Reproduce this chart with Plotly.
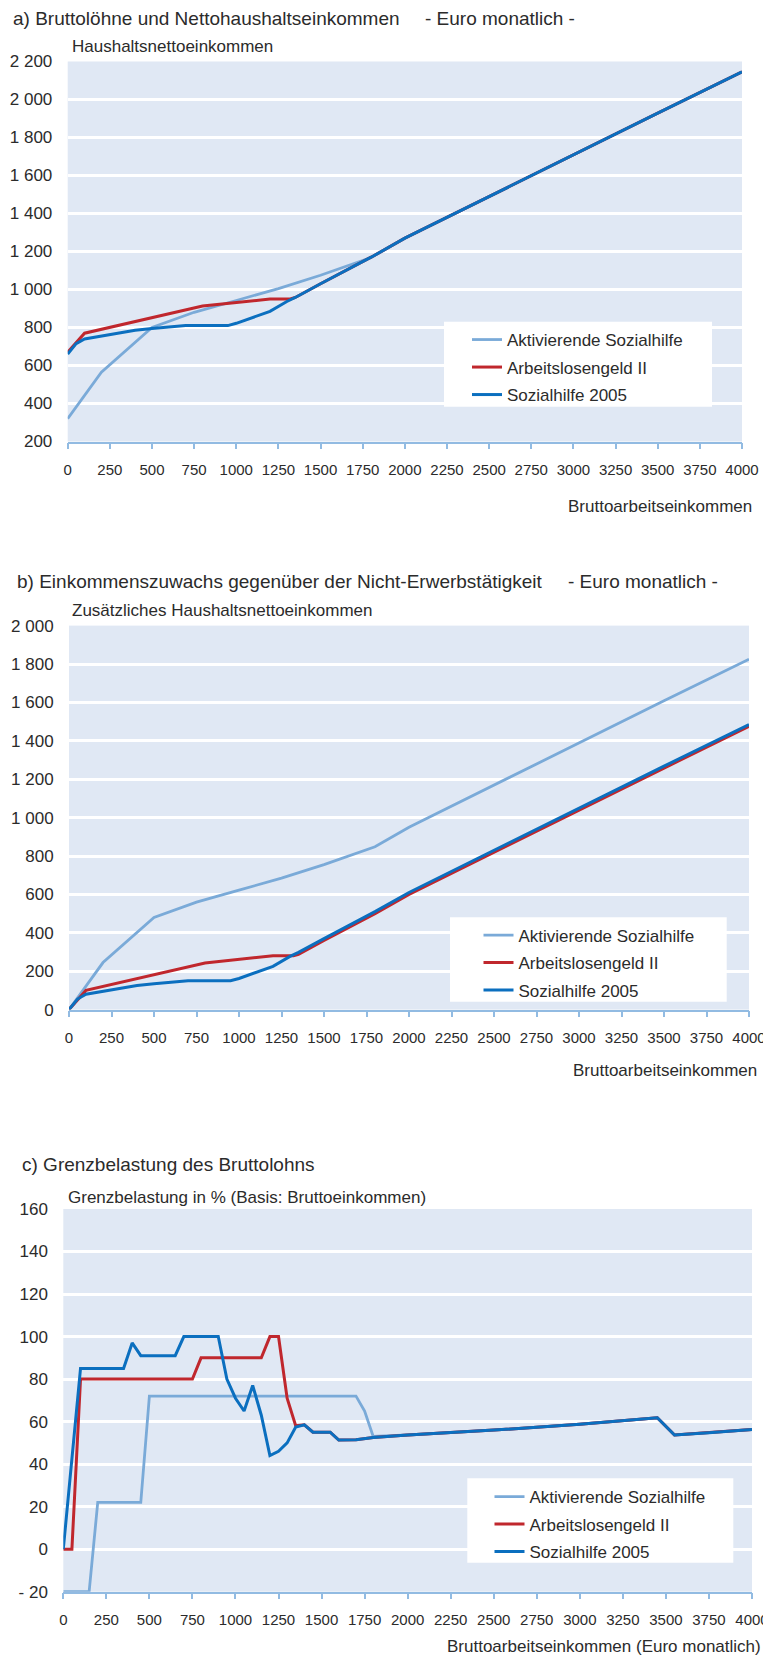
import plotly.graph_objects as go

PAGE_W, PAGE_H = 771, 1656
OFF = 8  # the page body margin that the browser puts around the figure
W, H = PAGE_W - OFF, PAGE_H - OFF

# ---------------- data ----------------
series_names = ["Aktivierende Sozialhilfe", "Arbeitslosengeld II", "Sozialhilfe 2005"]
series_colors = ["#7aaad8", "#c0272d", "#0b6fbf"]

x_ticks = [0, 250, 500, 750, 1000, 1250, 1500, 1750, 2000, 2250, 2500, 2750, 3000, 3250, 3500, 3750, 4000]
x_tick_labels = ["0", "250", "500", "750", "1000", "1250", "1500", "1750", "2000", "2250", "2500",
                 "2750", "3000", "3250", "3500", "3750", "4000"]

# panel a) Bruttolöhne und Nettohaushaltseinkommen
a_y_ticks = [200, 400, 600, 800, 1000, 1200, 1400, 1600, 1800, 2000, 2200]
a_y_tick_labels = ["200", "400", "600", "800", "1 000", "1 200", "1 400", "1 600", "1 800", "2 000", "2 200"]
a_x_aktiv = [0, 200, 500, 750, 1000, 1250, 1500, 1800, 2000, 2500, 3000, 3500, 4000]
a_y_aktiv = [320, 565, 800, 880, 942, 1005, 1075, 1168, 1270, 1490, 1710, 1928, 2145]
a_x_alg = [0, 100, 800, 1000, 1200, 1320, 1350, 1500, 1800, 2000, 2500, 3000, 3500, 4000]
a_y_alg = [670, 770, 913, 932, 950, 950, 958, 1030, 1170, 1270, 1490, 1710, 1928, 2145]
a_x_soz = [0, 50, 100, 200, 300, 400, 500, 600, 700, 800, 950, 1000, 1100, 1200, 1300, 1350,
           1500, 1800, 2000, 2500, 3000, 3500, 4000]
a_y_soz = [660, 715, 740, 755, 770, 785, 795, 803, 810, 810, 810, 822, 855, 885, 937, 958,
           1030, 1170, 1270, 1490, 1710, 1928, 2145]

# panel b) Einkommenszuwachs gegenüber der Nicht-Erwerbstätigkeit
b_y_ticks = [0, 200, 400, 600, 800, 1000, 1200, 1400, 1600, 1800, 2000]
b_y_tick_labels = ["0", "200", "400", "600", "800", "1 000", "1 200", "1 400", "1 600", "1 800", "2 000"]
b_x_aktiv = [0, 200, 500, 750, 1000, 1250, 1500, 1800, 2000, 2500, 3000, 3500, 4000]
b_y_aktiv = [0, 245, 480, 560, 622, 685, 755, 848, 950, 1170, 1390, 1608, 1825]
b_x_alg = [0, 100, 800, 1000, 1200, 1320, 1350, 1500, 1800, 2000, 2500, 3000, 3500, 4000]
b_y_alg = [0, 100, 243, 262, 280, 280, 288, 360, 500, 600, 820, 1040, 1258, 1475]
b_x_soz = [0, 50, 100, 200, 300, 400, 500, 600, 700, 800, 950, 1000, 1100, 1200, 1300, 1350,
           1500, 1800, 2000, 2500, 3000, 3500, 4000]
b_y_soz = [0, 55, 80, 95, 110, 125, 135, 143, 150, 150, 150, 162, 195, 225, 277, 298,
           370, 510, 610, 830, 1050, 1268, 1485]

# panel c) Grenzbelastung des Bruttolohns
c_y_ticks = [-20, 0, 20, 40, 60, 80, 100, 120, 140, 160]
c_y_tick_labels = ["- 20", "0", "20", "40", "60", "80", "100", "120", "140", "160"]
c_x_aktiv = [0, 150, 200, 450, 500, 1700, 1750, 1800, 2000, 2500, 3000, 3450, 3550, 3750, 4000]
c_y_aktiv = [-20, -20, 22, 22, 72, 72, 65, 53, 53.7, 56, 58.8, 61.8, 53.7, 54.8, 56.3]
c_x_alg = [0, 50, 100, 750, 800, 1150, 1200, 1250, 1300, 1350, 1400, 1450, 1550, 1600, 1700,
           1800, 2000, 2500, 3000, 3450, 3550, 3750, 4000]
c_y_alg = [0, 0, 80, 80, 90, 90, 100, 100, 71, 58, 58.5, 55, 55, 51.3, 51.5,
           52.5, 53.7, 56, 58.8, 61.8, 53.7, 54.8, 56.3]
c_x_soz = [0, 100, 350, 400, 450, 650, 700, 900, 950, 1000, 1050, 1100, 1150, 1200, 1250, 1300,
           1350, 1400, 1450, 1550, 1600, 1700, 1800, 2000, 2500, 3000, 3450, 3550, 3750, 4000]
c_y_soz = [0, 85, 85, 97, 91, 91, 100, 100, 80, 71, 65, 77, 63, 44, 46, 50,
           57.5, 58.5, 55, 55, 51.3, 51.5, 52.5, 53.7, 56, 58.8, 61.8, 53.7, 54.8, 56.3]

# ---------------- styling ----------------
FONT = "Arial, 'Liberation Sans', sans-serif"
TXT = "#2b2b2b"
AXIS_COL = "#92bbe2"
BG = "#e0e8f4"


def px(x):
    """page pixel x -> paper fraction"""
    return (x - OFF) / W


def py(y):
    """page pixel y -> paper fraction"""
    return 1 - (y - OFF) / H


panels = [
    dict(key="", legend="legend", xdom=(67.7, 742), ydom=(441.5, 61.5), yr=(200, 2200),
         yt=a_y_ticks, ytl=a_y_tick_labels,
         data=[(a_x_aktiv, a_y_aktiv), (a_x_alg, a_y_alg), (a_x_soz, a_y_soz)],
         box=(444, 321.7, 712, 406.7), leg=(467, 322)),
    dict(key="2", legend="legend2", xdom=(69, 749), ydom=(1009.6, 625.6), yr=(0, 2000),
         yt=b_y_ticks, ytl=b_y_tick_labels,
         data=[(b_x_aktiv, b_y_aktiv), (b_x_alg, b_y_alg), (b_x_soz, b_y_soz)],
         box=(450, 917.3, 726.7, 1001.7), leg=(478.5, 917.5)),
    dict(key="3", legend="legend3", xdom=(63.3, 752), ydom=(1591.7, 1209), yr=(-20, 160),
         yt=c_y_ticks, ytl=c_y_tick_labels,
         data=[(c_x_aktiv, c_y_aktiv), (c_x_alg, c_y_alg), (c_x_soz, c_y_soz)],
         box=(467.3, 1478.3, 733.3, 1562.7), leg=(489.5, 1479)),
]

fig = go.Figure()
layout = dict(
    width=W, height=H, margin=dict(l=0, r=0, t=0, b=0, pad=0, autoexpand=False),
    paper_bgcolor="white", plot_bgcolor=BG,
    font=dict(family=FONT, color=TXT),
    showlegend=True,
)
shapes = []

for p_i, p in enumerate(panels):
    k = p["key"]
    for s_i, (xs, ys) in enumerate(p["data"]):
        fig.add_trace(go.Scatter(
            x=xs, y=ys, mode="lines", name=series_names[s_i],
            line=dict(color=series_colors[s_i], width=3 if s_i else 2.8),
            xaxis="x" + k, yaxis="y" + k, legend=p["legend"],
            legendgroup=f"p{p_i}s{s_i}", hoverinfo="skip",
        ))
    layout["xaxis" + k] = dict(
        domain=[px(p["xdom"][0]), px(p["xdom"][1])], anchor="y" + k, automargin=False,
        range=[0, 4000], tickvals=x_ticks, ticktext=x_tick_labels,
        showgrid=False, zeroline=False, showline=True, linecolor=AXIS_COL, linewidth=1.5,
        ticks="outside", ticklen=6, tickwidth=1.5, tickcolor=AXIS_COL,
        tickfont=dict(size=15, color=TXT, family=FONT), ticklabelstandoff=8,
    )
    layout["yaxis" + k] = dict(
        domain=[py(p["ydom"][0]), py(p["ydom"][1])], anchor="x" + k, automargin=False,
        range=list(p["yr"]), tickvals=p["yt"], ticktext=p["ytl"],
        showgrid=True, gridcolor="white", gridwidth=2.6, zeroline=False, showline=False,
        ticks="outside", ticklen=11, tickcolor="rgba(0,0,0,0)",
        tickfont=dict(size=17, color=TXT, family=FONT),
    )
    layout[p["legend"]] = dict(
        x=px(p["leg"][0]), y=py(p["leg"][1]), xanchor="left", yanchor="top",
        bgcolor="rgba(0,0,0,0)", borderwidth=0, tracegroupgap=2.4,
        font=dict(size=17, color=TXT, family=FONT),
    )
    x0, y0, x1, y1 = p["box"]
    shapes.append(dict(type="rect", xref="paper", yref="paper", layer="above",
                       x0=px(x0), x1=px(x1), y0=py(y1), y1=py(y0),
                       fillcolor="white", line=dict(width=0)))

annots = []


def note(text, x, y, size, anchor="left", vanchor="middle"):
    annots.append(dict(text=text, x=px(x), y=py(y), xref="paper", yref="paper",
                       xanchor=anchor, yanchor=vanchor, showarrow=False,
                       borderpad=0, borderwidth=0,
                       font=dict(size=size, color=TXT, family=FONT)))


# top title: anchored to the top edge of the figure so that it is not clipped
note("a) Bruttolöhne und Nettohaushaltseinkommen", 13.3, OFF, 19, vanchor="top")
note("- Euro monatlich -", 425, OFF, 19, vanchor="top")
note("Haushaltsnettoeinkommen", 72, 46, 17)
note("Bruttoarbeitseinkommen", 752, 506, 17, "right")

note("b) Einkommenszuwachs gegenüber der Nicht-Erwerbstätigkeit", 17.3, 581.7, 19)
note("- Euro monatlich -", 567.7, 581.7, 19)
note("Zusätzliches Haushaltsnettoeinkommen", 71.7, 610, 17)
note("Bruttoarbeitseinkommen", 757, 1070, 17, "right")

note("c) Grenzbelastung des Bruttolohns", 21.7, 1164, 19)
note("Grenzbelastung in % (Basis: Bruttoeinkommen)", 67.7, 1197.7, 17)
note("Bruttoarbeitseinkommen (Euro monatlich)", 761, 1646.7, 17, "right")

layout["shapes"] = shapes
layout["annotations"] = annots
fig.update_layout(**layout)

fig.write_html("out.html")
